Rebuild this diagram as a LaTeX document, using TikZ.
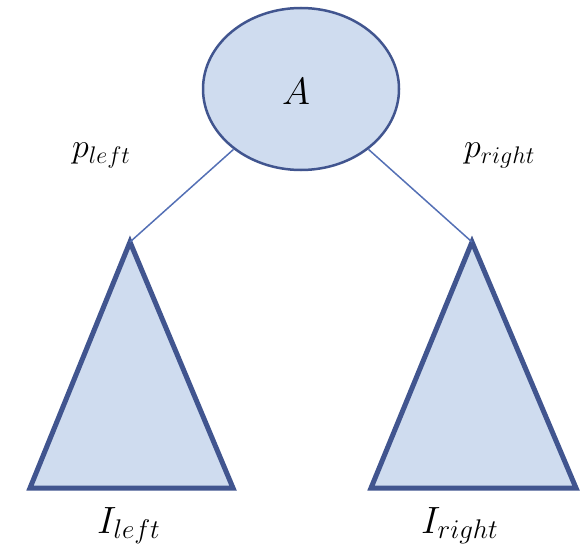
\RequirePackage{fix-cm}
\documentclass[tikz,border=0pt]{standalone}
\usetikzlibrary{shapes.geometric}
\DeclareMathSizes{38}{38}{27}{20}
\DeclareMathSizes{34}{34}{24}{17}
\definecolor{nodefill}{HTML}{CFDCEF}
\definecolor{nodeedge}{HTML}{41558F}
\definecolor{linkblue}{HTML}{5470B5}
\tikzset{
  treenode/.style={ellipse, draw=nodeedge, fill=nodefill, line width=2.5pt,
    minimum width=196pt, minimum height=162pt, inner sep=0pt},
  subtree/.style={draw=nodeedge, fill=nodefill, line width=5pt, line join=miter},
  link/.style={draw=linkblue, line width=1.5pt},
  biglbl/.style={inner sep=0pt, font=\fontsize{38}{42}\selectfont},
  problbl/.style={inner sep=0pt, font=\fontsize{34}{38}\selectfont}
}
\begin{document}
\begin{tikzpicture}[x=1pt,y=1pt]
  \useasboundingbox (0,0) rectangle (585,547);
  % root node
  \node[treenode] (A) at (301,458) {};
  \node[biglbl, anchor=base] (Alabel) at (296,442) {$A$};
  % apex and base corners of the two subtrees
  \coordinate (lt) at (130,305);
  \coordinate (ll) at (30,59);
  \coordinate (lr) at (233,59);
  \coordinate (rt) at (472,305);
  \coordinate (rl) at (371,59);
  \coordinate (rr) at (576,59);
  \path[subtree] (lt) -- (ll) -- (lr) -- cycle;
  \path[subtree] (rt) -- (rl) -- (rr) -- cycle;
  % edges from the root to the subtrees
  \path[link] (A) -- (lt);
  \path[link] (A) -- (rt);
  % labels
  \node[problbl, anchor=base west] (pl) at (72,389) {$p_{left}$};
  \node[problbl, anchor=base west] (pr) at (464,389) {$p_{right}$};
  \node[biglbl, anchor=base west] (il) at (97,14) {$I_{left}$};
  \node[biglbl, anchor=base west] (ir) at (421,14) {$I_{right}$};
\end{tikzpicture}
\end{document}
